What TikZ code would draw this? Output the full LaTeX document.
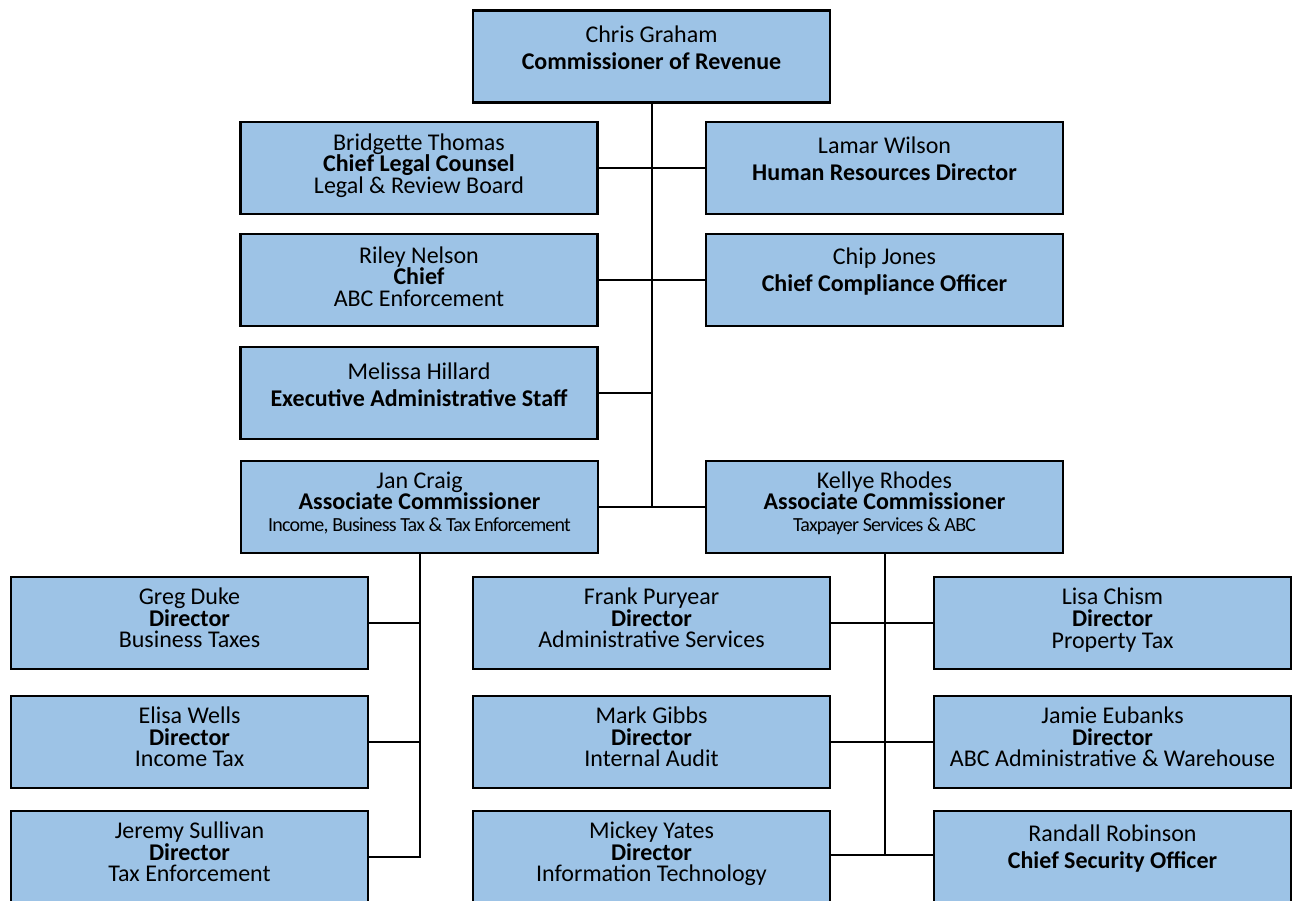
\documentclass[tikz,border=0pt]{standalone}
\usepackage{fontspec}
\setmainfont{Carlito}
\definecolor{boxblue}{HTML}{9DC3E6}
\tikzset{
  orgbox/.style={draw=black, line width=2.4pt, fill=boxblue, minimum width=357pt, minimum height=92pt, inner sep=0pt},
  txt3/.style={align=center, font=\fontsize{24}{21.7}\selectfont, inner sep=0pt},
  txt2/.style={align=center, font=\fontsize{24}{27}\selectfont, inner sep=0pt},
  conn/.style={draw=black, line width=2pt}
}
\newcommand{\narrowtxt}[1]{{\fontsize{20}{21.7}\selectfont\addfontfeature{LetterSpace=-4}#1}}
\begin{document}
\begin{tikzpicture}[x=1pt,y=-1pt]
\useasboundingbox (0,0) rectangle (1292,900);
\clip (0,0) rectangle (1292,900);
% boxes
\node[orgbox] (top) at (651.5,56.5) {};
\node[orgbox] (bridgette) at (419,168) {};
\node[orgbox] (lamar) at (884.5,168) {};
\node[orgbox] (riley) at (419,280) {};
\node[orgbox] (chip) at (884.5,280) {};
\node[orgbox] (melissa) at (419,393) {};
\node[orgbox] (jan) at (419.5,507) {};
\node[orgbox] (kellye) at (884.5,507) {};
\node[orgbox] (greg) at (189.5,623) {};
\node[orgbox] (frank) at (651.5,623) {};
\node[orgbox] (lisa) at (1112.5,623) {};
\node[orgbox] (elisa) at (189.5,742) {};
\node[orgbox] (mark) at (651.5,742) {};
\node[orgbox] (jamie) at (1112.5,742) {};
\node[orgbox] (jeremy) at (189.5,857) {};
\node[orgbox] (mickey) at (651.5,857) {};
\node[orgbox] (randall) at (1112.5,857) {};
% texts
\node[txt2] (topT) at ([yshift=8.5pt]top.center) {Chris Graham\\\textbf{Commissioner of Revenue}};
\node[txt3] (bridgetteT) at ([yshift=2.5pt]bridgette.center) {Bridgette Thomas\\\textbf{Chief Legal Counsel}\\Legal \& Review Board};
\node[txt2] (lamarT) at ([yshift=9pt]lamar.center) {Lamar Wilson\\\textbf{Human Resources Director}};
\node[txt3] (rileyT) at ([yshift=3.5pt]riley.center) {Riley Nelson\\\textbf{Chief}\\ABC Enforcement};
\node[txt2] (chipT) at ([yshift=8.5pt]chip.center) {Chip Jones\\\textbf{Chief Compliance Officer}};
\node[txt2] (melissaT) at ([yshift=8pt]melissa.center) {Melissa Hillard\\\textbf{Executive Administrative Staff}};
\node[txt3] (janT) at ([yshift=4pt]jan.center) {Jan Craig\\\textbf{Associate Commissioner}\\\narrowtxt{Income, Business Tax \& Tax Enforcement}};
\node[txt3] (kellyeT) at ([yshift=4pt]kellye.center) {Kellye Rhodes\\\textbf{Associate Commissioner}\\\narrowtxt{Taxpayer Services \& ABC}};
\node[txt3] (gregT) at ([yshift=5pt]greg.center) {Greg Duke\\\textbf{Director}\\Business Taxes};
\node[txt3] (frankT) at ([yshift=5pt]frank.center) {Frank Puryear\\\textbf{Director}\\Administrative Services};
\node[txt3] (lisaT) at ([yshift=3pt]lisa.center) {Lisa Chism\\\textbf{Director}\\Property Tax};
\node[txt3] (elisaT) at ([yshift=5pt]elisa.center) {Elisa Wells\\\textbf{Director}\\Income Tax};
\node[txt3] (markT) at ([yshift=5pt]mark.center) {Mark Gibbs\\\textbf{Director}\\Internal Audit};
\node[txt3] (jamieT) at ([yshift=5pt]jamie.center) {Jamie Eubanks\\\textbf{Director}\\ABC Administrative \& Warehouse};
\node[txt3] (jeremyT) at ([yshift=5pt]jeremy.center) {Jeremy Sullivan\\\textbf{Director}\\Tax Enforcement};
\node[txt3] (mickeyT) at ([yshift=3pt]mickey.center) {Mickey Yates\\\textbf{Director}\\Information Technology};
\node[txt2] (randallT) at ([yshift=8pt]randall.center) {Randall Robinson\\\textbf{Chief Security Officer}};
% connectors
\coordinate (spine) at (top.south |- jan.east);
\draw[conn] (top.south) -- (spine);
\draw[conn] (bridgette.east) -- (lamar.west);
\draw[conn] (riley.east) -- (chip.west);
\draw[conn] (melissa.east) -- (melissa.east -| top.south);
\draw[conn] (jan.east) -- (kellye.west);
\draw[conn] (jan.south) -- (jan.south |- jeremy.east) -- (jeremy.east);
\draw[conn] (greg.east) -- (greg.east -| jan.south);
\draw[conn] (elisa.east) -- (elisa.east -| jan.south);
\draw[conn] (kellye.south) -- ([yshift=2pt]kellye.south |- randall.west);
\draw[conn] (frank.east) -- (lisa.west);
\draw[conn] (mark.east) -- (jamie.west);
\draw[conn] ([yshift=2pt]mickey.east) -- ([yshift=2pt]randall.west);
\end{tikzpicture}
\end{document}
